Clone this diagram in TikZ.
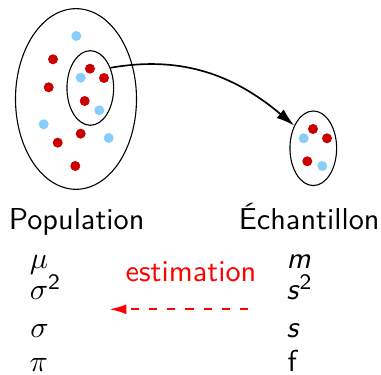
\documentclass[tikz,border=0pt]{standalone}
\usepackage{amsmath,amssymb}
\usetikzlibrary{arrows.meta,shapes.geometric}
\definecolor{dotred}{RGB}{204,0,0}
\definecolor{dotblue}{RGB}{135,206,250}

\begin{document}
\begin{tikzpicture}[x=0.362pt, y=0.362pt, every node/.style={font=\sffamily\fontsize{10.95}{13.6}\selectfont, inner sep=0pt},
	set/.style={draw, ellipse, thin, minimum width=16.9pt, minimum height=27pt},
	lbl/.style={anchor=base west}]
	\useasboundingbox (0,0) rectangle (381,375);
	\node[set, minimum width=43.8pt, minimum height=65.4pt] (pop) at (76,276) {};
	\node[set] (sub) at (90.3,287) {};
	\node[set] (ech) at (313.3,226.7) {};
	\foreach \x/\y in {53/315.7, 90/306.3, 104/297, 48.7/287.7, 84.7/274, 80.7/241.3, 57.7/232.3, 75.3/209, 313/246, 327/236.7, 307.3/213.7}
		\fill[dotred] (\x,\y) circle[radius=5];
	\foreach \x/\y in {76.3/339, 80.7/297.3, 99.3/264.7, 43.7/250.7, 108.7/237, 303.7/236.7, 322.3/209}
		\fill[dotblue] (\x,\y) circle[radius=5];
	\draw[-{Latex[length=6.6pt, width=4pt]}, semithick] (sub.45) to[out=10, in=140] (ech.130);
	\node[lbl] (poplbl) at (8.3,145.7) {Population};
	\node[lbl] (echlbl) at (238.3,145.7) {Échantillon};
	\node[red, anchor=base] (est) at (191,93.3) {estimation};
	\node[lbl] (mu) at (29.3,106) {$\mu$};
	\node[lbl] (var) at (29.3,75) {$\sigma^{\textsf{2}}$};
	\node[lbl] (sd) at (29.8,37.3) {$\sigma$};
	\node[lbl] (pi) at (29,3) {$\pi$};
	\node[lbl] (m) at (286,106) {\textit{m}};
	\node[lbl] (svar) at (286,75) {\textit{s}$^{\textsf{2}}$};
	\node[lbl] (s) at (286,37.3) {\textit{s}};
	\node[lbl] (f) at (287,3) {f};
	\coordinate (estR) at (248.3,65.7);
	\coordinate (estL) at (109.3,65.7);
	\draw[-{Latex[length=6.2pt, width=3.6pt]}, red, line width=0.7pt, dash pattern=on 3pt off 3.6pt] (estR) -- (estL);
\end{tikzpicture}
\end{document}
